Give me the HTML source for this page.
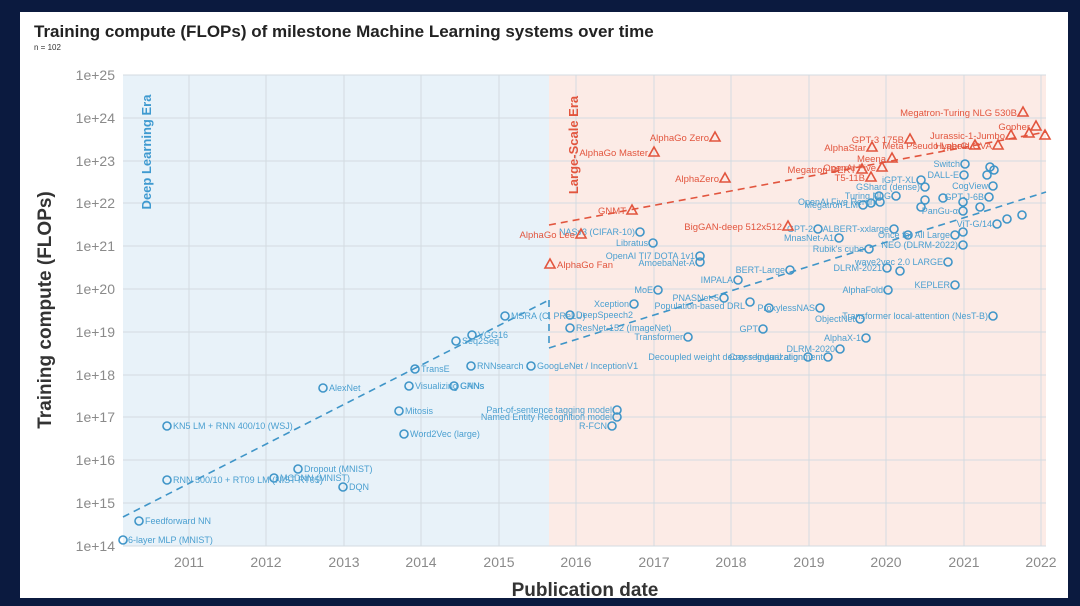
<!DOCTYPE html>
<html><head><meta charset="utf-8"><style>
body{margin:0;background:#0b1a3f;width:1080px;height:606px;overflow:hidden}
svg{display:block}
text{font-family:"Liberation Sans",sans-serif}
.b{fill:none;stroke:#3f95c8;stroke-width:1.6}
.r{fill:none;stroke:#e2553e;stroke-width:1.6}
.bl{fill:#4a9fd0;font-size:9px}
.rl{fill:#e2553e;font-size:9.5px}
.t{fill:#8a8a8a;font-size:14px}
</style></head><body>
<svg width="1080" height="606" viewBox="0 0 1080 606">
<rect x="0" y="0" width="1080" height="606" fill="#0b1a3f"/>
<rect x="20" y="12" width="1048" height="586" fill="#fff"/>
<text x="34" y="37" font-size="17" font-weight="bold" fill="#222">Training compute (FLOPs) of milestone Machine Learning systems over time</text>
<text x="34" y="50" font-size="8" fill="#333">n = 102</text>
<rect x="123" y="75" width="426" height="471" fill="#e8f2f9"/>
<rect x="549" y="75" width="497" height="471" fill="#fcebe6"/>
<g stroke="#d3dbe1" stroke-width="1">
<line x1="123" y1="75" x2="1046" y2="75"/><line x1="123" y1="118" x2="1046" y2="118"/><line x1="123" y1="161" x2="1046" y2="161"/><line x1="123" y1="203" x2="1046" y2="203"/><line x1="123" y1="246" x2="1046" y2="246"/><line x1="123" y1="289" x2="1046" y2="289"/><line x1="123" y1="332" x2="1046" y2="332"/><line x1="123" y1="375" x2="1046" y2="375"/><line x1="123" y1="417" x2="1046" y2="417"/><line x1="123" y1="460" x2="1046" y2="460"/><line x1="123" y1="503" x2="1046" y2="503"/><line x1="123" y1="546" x2="1046" y2="546"/>
<line x1="189" y1="75" x2="189" y2="546"/><line x1="266" y1="75" x2="266" y2="546"/><line x1="344" y1="75" x2="344" y2="546"/><line x1="421" y1="75" x2="421" y2="546"/><line x1="499" y1="75" x2="499" y2="546"/><line x1="576" y1="75" x2="576" y2="546"/><line x1="654" y1="75" x2="654" y2="546"/><line x1="731" y1="75" x2="731" y2="546"/><line x1="809" y1="75" x2="809" y2="546"/><line x1="886" y1="75" x2="886" y2="546"/><line x1="964" y1="75" x2="964" y2="546"/><line x1="1041" y1="75" x2="1041" y2="546"/>
</g>
<g class="t" text-anchor="end">
<text x="115" y="80">1e+25</text><text x="115" y="123">1e+24</text><text x="115" y="166">1e+23</text><text x="115" y="208">1e+22</text><text x="115" y="251">1e+21</text><text x="115" y="294">1e+20</text><text x="115" y="337">1e+19</text><text x="115" y="380">1e+18</text><text x="115" y="422">1e+17</text><text x="115" y="465">1e+16</text><text x="115" y="508">1e+15</text><text x="115" y="551">1e+14</text>
</g>
<g class="t" text-anchor="middle">
<text x="189" y="567">2011</text><text x="266" y="567">2012</text><text x="344" y="567">2013</text><text x="421" y="567">2014</text><text x="499" y="567">2015</text><text x="576" y="567">2016</text><text x="654" y="567">2017</text><text x="731" y="567">2018</text><text x="809" y="567">2019</text><text x="886" y="567">2020</text><text x="964" y="567">2021</text><text x="1041" y="567">2022</text>
</g>
<text x="585" y="596" font-size="19" font-weight="bold" fill="#333" text-anchor="middle">Publication date</text>
<text transform="translate(51,310) rotate(-90)" font-size="19" font-weight="bold" fill="#333" text-anchor="middle">Training compute (FLOPs)</text>
<text transform="translate(151,152) rotate(-90)" font-size="13" font-weight="bold" fill="#3f9ad0" text-anchor="middle">Deep Learning Era</text>
<text transform="translate(578,145) rotate(-90)" font-size="13" font-weight="bold" fill="#e2553e" text-anchor="middle">Large-Scale Era</text>
<g stroke-dasharray="7,5" stroke-width="1.6" fill="none">
<line x1="123" y1="517" x2="549" y2="300" stroke="#3f95c8"/>
<line x1="549" y1="300" x2="549" y2="348" stroke="#3f95c8"/>
<line x1="549" y1="348" x2="1046" y2="192" stroke="#3f95c8"/>
<line x1="549" y1="225" x2="1046" y2="132" stroke="#e2553e"/>
</g>
<g class="b">
<circle cx="123" cy="540" r="4"/><circle cx="139" cy="521" r="4"/><circle cx="167" cy="426" r="4"/><circle cx="167" cy="480" r="4"/><circle cx="274" cy="478" r="4"/><circle cx="298" cy="469" r="4"/><circle cx="343" cy="487" r="4"/><circle cx="323" cy="388" r="4"/><circle cx="399" cy="411" r="4"/><circle cx="404" cy="434" r="4"/><circle cx="409" cy="386" r="4"/><circle cx="415" cy="369" r="4"/><circle cx="454" cy="386" r="4"/><circle cx="456" cy="341" r="4"/><circle cx="472" cy="335" r="4"/><circle cx="471" cy="366" r="4"/><circle cx="505" cy="316" r="4"/><circle cx="531" cy="366" r="4"/><circle cx="570" cy="315" r="4"/><circle cx="570" cy="328" r="4"/><circle cx="640" cy="232" r="4"/><circle cx="653" cy="243" r="4"/><circle cx="700" cy="256" r="4"/><circle cx="700" cy="262" r="4"/><circle cx="634" cy="304" r="4"/><circle cx="658" cy="290" r="4"/><circle cx="617" cy="410" r="4"/><circle cx="617" cy="417" r="4"/><circle cx="612" cy="426" r="4"/><circle cx="688" cy="337" r="4"/><circle cx="724" cy="298" r="4"/><circle cx="738" cy="280" r="4"/><circle cx="790" cy="270" r="4"/><circle cx="750" cy="302" r="4"/><circle cx="769" cy="308" r="4"/><circle cx="808" cy="357" r="4"/><circle cx="763" cy="329" r="4"/><circle cx="828" cy="357" r="4"/><circle cx="860" cy="319" r="4"/><circle cx="866" cy="338" r="4"/><circle cx="840" cy="349" r="4"/><circle cx="820" cy="308" r="4"/>
<circle cx="965" cy="164" r="4"/><circle cx="990" cy="167" r="4"/><circle cx="987" cy="175" r="4"/><circle cx="994" cy="170" r="4"/><circle cx="964" cy="175" r="4"/><circle cx="921" cy="180" r="4"/><circle cx="925" cy="187" r="4"/><circle cx="993" cy="186" r="4"/><circle cx="989" cy="197" r="4"/><circle cx="896" cy="196" r="4"/><circle cx="880" cy="202" r="4"/><circle cx="863" cy="205" r="4"/><circle cx="871" cy="203" r="4"/><circle cx="925" cy="200" r="4"/><circle cx="943" cy="198" r="4"/><circle cx="921" cy="207" r="4"/><circle cx="963" cy="202" r="4"/><circle cx="963" cy="211" r="4"/><circle cx="980" cy="207" r="4"/><circle cx="997" cy="224" r="4"/><circle cx="1007" cy="219" r="4"/><circle cx="1022" cy="215" r="4"/><circle cx="894" cy="229" r="4"/><circle cx="818" cy="229" r="4"/><circle cx="839" cy="238" r="4"/><circle cx="908" cy="235" r="4"/><circle cx="955" cy="235" r="4"/><circle cx="963" cy="232" r="4"/><circle cx="869" cy="249" r="4"/><circle cx="963" cy="245" r="4"/><circle cx="948" cy="262" r="4"/><circle cx="887" cy="268" r="4"/><circle cx="900" cy="271" r="4"/><circle cx="888" cy="290" r="4"/><circle cx="955" cy="285" r="4"/><circle cx="993" cy="316" r="4"/><circle cx="879" cy="196" r="4"/>
</g>
<g class="bl">
<text x="128" y="543">6-layer MLP (MNIST)</text><text x="145" y="524">Feedforward NN</text><text x="173" y="429">KN5 LM + RNN 400/10 (WSJ)</text><text x="173" y="483">RNN 500/10 + RT09 LM (NIST RT05)</text><text x="280" y="481">MCDNN (MNIST)</text><text x="304" y="472">Dropout (MNIST)</text><text x="349" y="490">DQN</text><text x="329" y="391">AlexNet</text><text x="405" y="414">Mitosis</text><text x="410" y="437">Word2Vec (large)</text><text x="415" y="389">Visualizing CNNs</text><text x="421" y="372">TransE</text><text x="460" y="389">GANs</text><text x="462" y="344">Seq2Seq</text><text x="478" y="338">VGG16</text><text x="477" y="369">RNNsearch</text><text x="511" y="319">MSRA (C, PReLU)</text><text x="537" y="369">GoogLeNet / InceptionV1</text><text x="576" y="318">DeepSpeech2</text><text x="576" y="331">ResNet-152 (ImageNet)</text>
</g>
<g class="bl" text-anchor="end">
<text x="635" y="235">NASv3 (CIFAR-10)</text><text x="648" y="246">Libratus</text><text x="695" y="259">OpenAI TI7 DOTA 1v1</text><text x="695" y="266">AmoebaNet-A</text><text x="629" y="307">Xception</text><text x="653" y="293">MoE</text><text x="612" y="413">Part-of-sentence tagging model</text><text x="612" y="420">Named Entity Recognition model</text><text x="607" y="429">R-FCN</text><text x="683" y="340">Transformer</text><text x="719" y="301">PNASNet-5</text><text x="733" y="283">IMPALA</text><text x="785" y="273">BERT-Large</text><text x="745" y="309">Population-based DRL</text><text x="815" y="311">ProxylessNAS</text><text x="803" y="360">Decoupled weight decay regularization</text><text x="758" y="332">GPT</text><text x="823" y="360">Cross-lingual alignment</text><text x="855" y="322">ObjectNet</text><text x="861" y="341">AlphaX-1</text><text x="835" y="352">DLRM-2020</text>
<text x="960" y="167">Switch</text><text x="959" y="178">DALL-E</text><text x="916" y="183">iGPT-XL</text><text x="920" y="190">GShard (dense)</text><text x="988" y="189">CogView</text><text x="984" y="200">GPT-J-6B</text><text x="891" y="199">Turing NLG</text><text x="875" y="205">OpenAI Five Rerun</text><text x="858" y="208">Megatron-LM</text><text x="958" y="214">PanGu-α</text><text x="992" y="227">ViT-G/14</text><text x="889" y="232">ALBERT-xxlarge</text><text x="813" y="232">GPT-2</text><text x="834" y="241">MnasNet-A1</text><text x="950" y="238">Once for All Large</text><text x="864" y="252">Rubik's cube</text><text x="958" y="248">NEO (DLRM-2022)</text><text x="943" y="265">wave2vec 2.0 LARGE</text><text x="882" y="271">DLRM-2021</text><text x="883" y="293">AlphaFold</text><text x="950" y="288">KEPLER</text><text x="988" y="319">Transformer local-attention (NesT-B)</text>
</g>
<g class="r">
<path d="M550 259l5 9h-10z"/><path d="M581 229l5 9h-10z"/><path d="M654 147l5 9h-10z"/><path d="M715 132l5 9h-10z"/><path d="M725 173l5 9h-10z"/><path d="M632 205l5 9h-10z"/><path d="M788 221l5 9h-10z"/><path d="M862 164l5 9h-10z"/><path d="M882 162l5 9h-10z"/><path d="M871 172l5 9h-10z"/><path d="M892 153l5 9h-10z"/><path d="M872 142l5 9h-10z"/><path d="M910 134l5 9h-10z"/><path d="M975 140l5 9h-10z"/><path d="M998 140l5 9h-10z"/><path d="M1011 130l5 9h-10z"/><path d="M1029 128l5 9h-10z"/><path d="M1036 121l5 9h-10z"/><path d="M1023 107l5 9h-10z"/><path d="M1045 130l5 9h-10z"/>
</g>
<g class="rl">
<text x="557" y="268">AlphaGo Fan</text>
</g>
<g class="rl" text-anchor="end">
<text x="575" y="238">AlphaGo Lee</text><text x="648" y="156">AlphaGo Master</text><text x="709" y="141">AlphaGo Zero</text><text x="719" y="182">AlphaZero</text><text x="626" y="214">GNMT</text><text x="782" y="230">BigGAN-deep 512x512</text><text x="856" y="173">Megatron-BERT</text><text x="876" y="171">OpenAI Five</text><text x="865" y="181">T5-11B</text><text x="886" y="162">Meena</text><text x="866" y="151">AlphaStar</text><text x="904" y="143">GPT-3 175B</text><text x="969" y="149">Meta Pseudo Labels</text><text x="992" y="149">HyperCLOVA</text><text x="1005" y="139">Jurassic-1-Jumbo</text><text x="1030" y="130">Gopher</text><text x="1017" y="116">Megatron-Turing NLG 530B</text>
</g>
</svg>
</body></html>
